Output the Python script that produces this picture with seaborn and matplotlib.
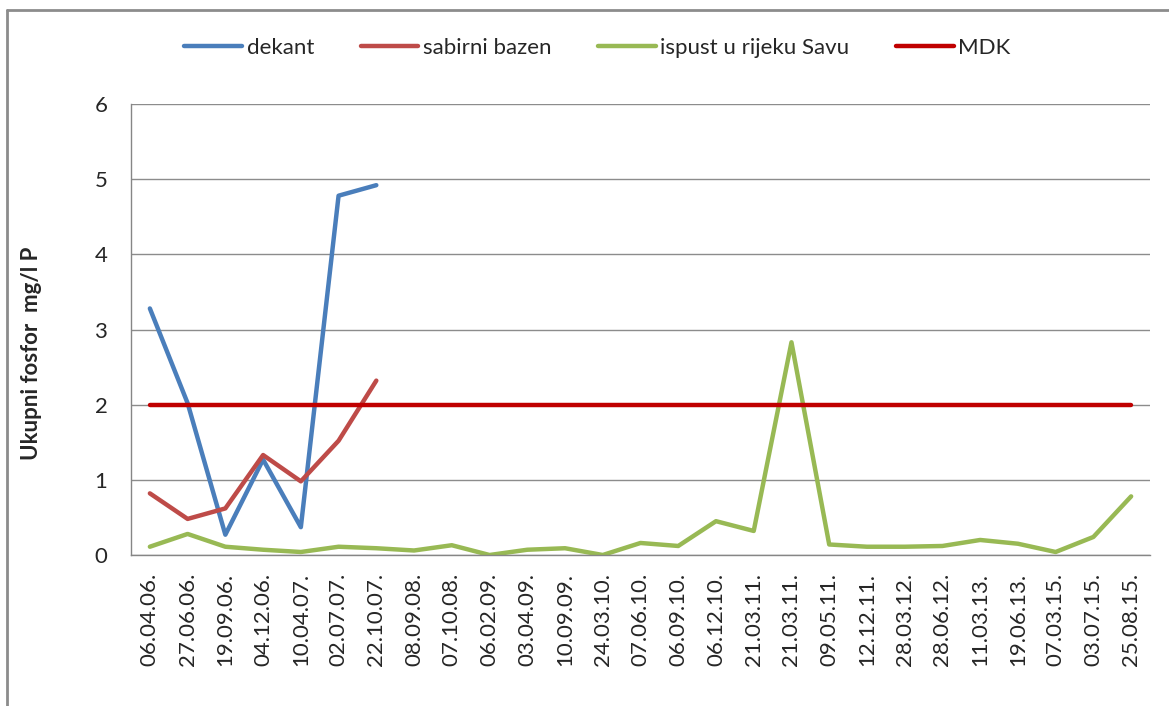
import numpy as np
import pandas as pd
import matplotlib
matplotlib.use("Agg")
import matplotlib.pyplot as plt
import seaborn as sns
from matplotlib.lines import Line2D

datumi = ["06.04.06.", "27.06.06.", "19.09.06.", "04.12.06.", "10.04.07.", "02.07.07.",
          "22.10.07.", "08.09.08.", "07.10.08.", "06.02.09.", "03.04.09.", "10.09.09.",
          "24.03.10.", "07.06.10.", "06.09.10.", "06.12.10.", "21.03.11.", "21.03.11.",
          "09.05.11.", "12.12.11.", "28.03.12.", "28.06.12.", "11.03.13.", "19.06.13.",
          "07.03.15.", "03.07.15.", "25.08.15."]

dekant = [3.28, 2.02, 0.27, 1.27, 0.37, 4.78, 4.92]
sabirni_bazen = [0.82, 0.48, 0.62, 1.33, 0.98, 1.52, 2.32]
ispust = [0.11, 0.28, 0.11, 0.07, 0.04, 0.11, 0.09, 0.06, 0.13, 0.0, 0.07, 0.09, 0.0,
          0.16, 0.12, 0.45, 0.32, 2.83, 0.14, 0.11, 0.11, 0.12, 0.20, 0.15, 0.04, 0.24, 0.78]
mdk = [2.0] * len(datumi)

serije = ["dekant", "sabirni bazen", "ispust u rijeku Savu", "MDK"]
boje = ["#4A7EBB", "#BE4B48", "#98B954", "#C00000"]

redovi = []
for naziv, vrijednosti in zip(serije, [dekant, sabirni_bazen, ispust, mdk]):
    for i, v in enumerate(vrijednosti):
        redovi.append({"x": i, "vrijednost": v, "serija": naziv})
df = pd.DataFrame(redovi)

sns.set_style("white")
plt.rcParams["font.family"] = ["Lato", "DejaVu Sans"]

fig = plt.figure(figsize=(11.69, 7.06), dpi=100)
ax = fig.add_axes([131 / 1169, 1 - 555 / 706, (1150 - 131) / 1169, (555 - 104) / 706])

sns.lineplot(data=df, x="x", y="vrijednost", hue="serija", hue_order=serije,
             palette=boje, linewidth=3.2, legend=False, ax=ax,
             solid_capstyle="round")

ax.set_xlim(-0.5, len(datumi) - 0.5)
ax.set_ylim(0, 6)
ax.set_yticks(range(0, 7))
ax.set_xticks(np.arange(-0.5, len(datumi), 1.0))
ax.set_xticklabels([])
ax.set_xticks(range(len(datumi)), minor=True)
ax.set_xticklabels(datumi, minor=True, rotation=90, fontsize=16)
ax.tick_params(axis="x", which="major", length=8, width=1, color="#868686", direction="out")
ax.tick_params(axis="x", which="minor", length=0, pad=13)
ax.tick_params(axis="y", length=7, width=1, color="#868686", direction="out", labelsize=16, pad=10)

ax.grid(axis="y", color="#8c8c8c", linewidth=1)
ax.set_axisbelow(True)
for s in ["top", "right"]:
    ax.spines[s].set_visible(False)
for s in ["left", "bottom"]:
    ax.spines[s].set_color("#868686")
    ax.spines[s].set_linewidth(1)

ax.set_xlabel("")
ax.set_ylabel("Ukupni fosfor  mg/l P", fontsize=16, fontweight="bold")
ax.yaxis.set_label_coords(-0.087, 0.448)

rucke = [Line2D([0], [0], color=c, lw=3.2, solid_capstyle="round") for c in boje]
fig.legend(rucke, serije, loc="center", bbox_to_anchor=(0.511, 1 - 48 / 706), ncol=4,
           frameon=False, fontsize=16, handlelength=2.6, handletextpad=0.2,
           columnspacing=2.1)

# okvir grafikona (samo lijevo i gore vidljivo)
fig.add_artist(Line2D([7 / 1169, 7 / 1169], [0, 1 - 10 / 706], color="#8c8c8c", lw=2,
                      transform=fig.transFigure))
fig.add_artist(Line2D([7 / 1169, 1], [1 - 10 / 706, 1 - 10 / 706], color="#8c8c8c", lw=2,
                      transform=fig.transFigure))

fig.savefig("out.png", dpi=100)
